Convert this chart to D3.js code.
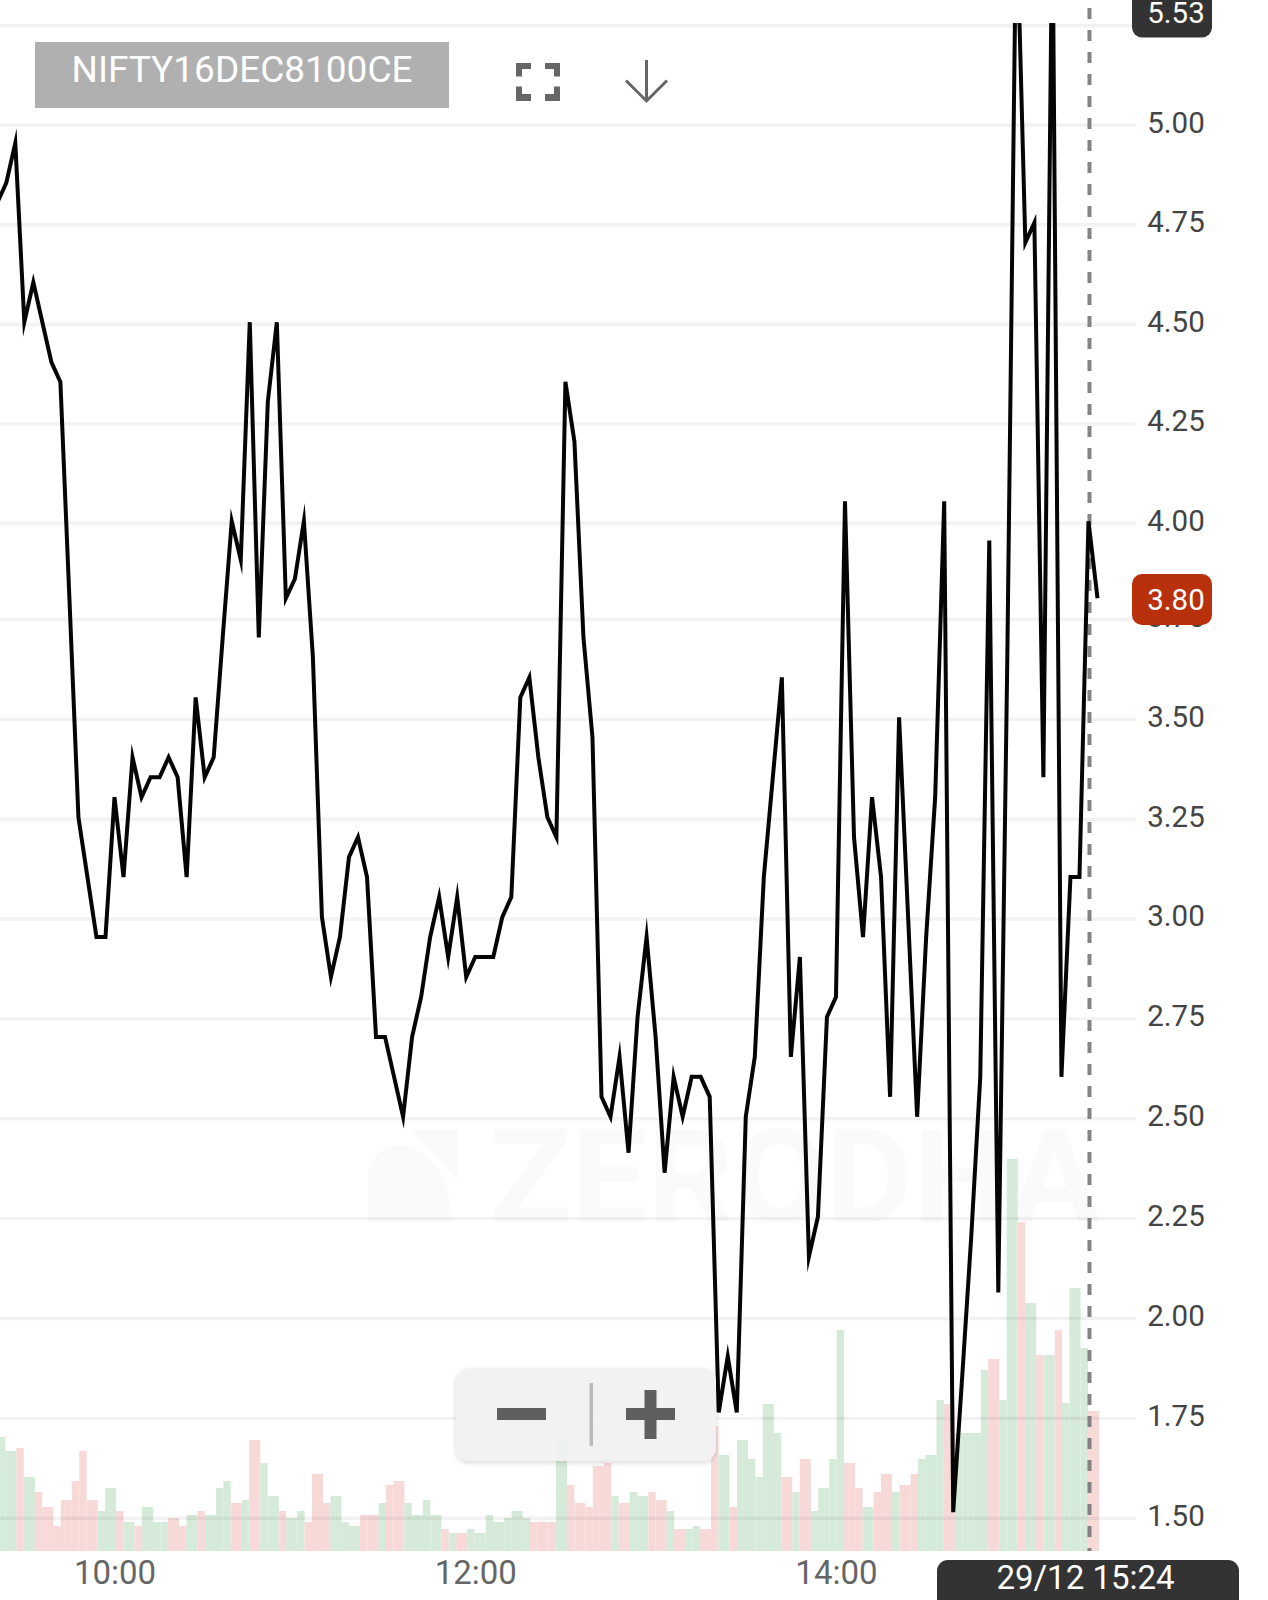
<!DOCTYPE html>
<html>
<head>
<meta charset="utf-8">
<title>NIFTY16DEC8100CE</title>
<script src="https://cdnjs.cloudflare.com/ajax/libs/d3/7.8.5/d3.min.js"></script>
<style>
  html, body { margin: 0; padding: 0; background: #fff; }
  svg { display: block; }
  text { font-family: Roboto, "Noto Sans", sans-serif; }
</style>
</head>
<body>
<div id="chart"></div>
<script>
// one candle every 3 minutes
var closes = [
  4.80,4.85,4.95,4.50,4.60,4.50,4.40,4.35,3.80,3.25,
  3.10,2.95,2.95,3.30,3.10,3.40,3.30,3.35,3.35,3.40,
  3.35,3.10,3.55,3.35,3.40,3.70,4.00,3.90,4.50,3.70,
  4.30,4.50,3.80,3.85,4.00,3.65,3.00,2.85,2.95,3.15,
  3.20,3.10,2.70,2.70,2.60,2.50,2.70,2.80,2.95,3.05,
  2.90,3.05,2.85,2.90,2.90,2.90,3.00,3.05,3.55,3.60,
  3.40,3.25,3.20,4.35,4.20,3.70,3.45,2.55,2.50,2.65,
  2.41,2.75,2.95,2.70,2.36,2.60,2.50,2.60,2.60,2.55,
  1.76,1.90,1.76,2.50,2.65,3.10,3.35,3.60,2.65,2.90,
  2.15,2.25,2.75,2.80,4.05,3.20,2.95,3.30,3.10,2.55,
  3.50,3.00,2.50,2.95,3.30,4.05,1.51,1.85,2.20,2.60,
  3.95,2.06,3.65,5.55,4.70,4.75,3.35,5.55,2.60,3.10,
  3.10,4.00,3.80
];

var volumes = [
  100,114,100,103,74,59,44,25,51,70,
  100,51,40,63,40,29,25,44,29,29,
  33,25,36,40,36,63,70,48,51,111,
  88,55,40,33,40,29,77,48,55,29,
  25,36,36,48,66,70,48,36,51,36,
  22,18,18,22,18,36,29,33,40,33,
  29,29,29,114,66,48,44,85,88,55,
  48,59,55,59,51,40,22,22,25,22,
  125,96,44,111,92,74,147,118,74,59,
  92,40,63,92,221,88,63,44,59,77,
  59,66,77,92,96,151,147,118,118,118,
  181,192,151,392,329,248,196,196,221,148,
  263,203,140
];

// 1 = up candle (green), 0 = down candle (red)
var volumeUp = [
  1,1,1,0,1,0,0,0,0,0,
  0,0,1,1,0,1,0,1,1,1,
  0,0,1,0,1,1,1,0,1,0,
  1,1,0,1,1,0,0,0,1,1,
  1,0,0,1,0,0,1,1,1,1,
  0,1,0,1,1,1,1,1,1,1,
  0,0,0,1,0,0,0,0,0,1,
  0,1,1,0,0,1,0,1,1,0,
  0,1,0,1,1,1,1,1,0,1,
  0,1,1,1,1,0,0,1,0,0,
  1,0,0,1,1,1,0,1,1,1,
  1,0,1,1,0,1,0,1,0,1,
  1,1,0
];

var gridTicks = [1.5,1.75,2,2.25,2.5,2.75,3,3.25,3.5,3.75,4,4.25,4.5,4.75,5,5.25];
var priceTicks = [1.5,1.75,2,2.25,2.5,2.75,3,3.25,3.5,3.75,4,4.25,4.5,4.75,5];
var timeTicks = [600,720,840]; // minutes since midnight
var lastMinute = 927;
var stepMinutes = 3;
var chartTitle = 'NIFTY16DEC8100CE';
var highLabel = '5.53';
var lastLabel = '3.80';
var crosshairLabel = '29/12 15:24';
var crosshairMinute = 924;

var width = 1268, height = 1600;

var minuteOf = function(i){
  return lastMinute - stepMinutes*(closes.length-1-i);
};

var x = d3.scaleLinear().domain([600,927]).range([114.5,1097.5]);
// the screenshot has a small step between 3.75 and 4.00, so three segments
var y = d3.scaleLinear().domain([1.5,3.75,4,5]).range([1517.7,619,522.7,124.7]);
var yVol = d3.scaleLinear().domain([0,392]).range([1551,1159]);

// the bars in the screenshot sit on a coarse pixel grid, so widths go 11,7,11,7...
var snap = function(px){
  var unit = 3.695;
  return Math.round((px-4.59)/unit)*unit + 5.33;
};

var clock = function(m){
  return d3.format('02d')(Math.floor(m/60)) + ':' + d3.format('02d')(m%60);
};

var svg = d3.select('#chart').append('svg')
            .attr('width',width)
            .attr('height',height);

svg.append('defs').append('clipPath').attr('id','plot')
   .append('rect').attr('x',0).attr('y',23).attr('width',1136).attr('height',1528);

var shadow = svg.select('defs').append('filter').attr('id','soft')
   .attr('x','-10%').attr('y','-10%').attr('width','120%').attr('height','125%');
shadow.append('feDropShadow').attr('dx',0).attr('dy',2).attr('stdDeviation',2.5)
   .attr('flood-color','#000').attr('flood-opacity',0.16);

// watermark
var mark = svg.append('g').attr('fill','#fafafa');
mark.append('path').attr('d','M368,1223 L368,1175 C372,1130 450,1130 452,1223 Z');
mark.append('path').attr('d','M411,1130 L458,1130 L458,1180 Z');
mark.append('text')
    .attr('x',490).attr('y',1222)
    .attr('font-size',130)
    .attr('font-weight',700)
    .attr('textLength',610)
    .attr('lengthAdjust','spacingAndGlyphs')
    .text('ZERODHA');

// volume bars
svg.append('g').attr('clip-path','url(#plot)')
  .selectAll('rect').data(volumes).enter().append('rect')
  .attr('x',function(d,i){ return snap(x(minuteOf(i)-stepMinutes)); })
  .attr('width',function(d,i){ return snap(x(minuteOf(i))) - snap(x(minuteOf(i)-stepMinutes)); })
  .attr('y',function(d){ return yVol(d); })
  .attr('height',function(d){ return yVol(0)-yVol(d); })
  .attr('fill',function(d,i){ return volumeUp[i] ? '#d6ead9' : '#f7d9d8'; });

// gridlines
var grid = svg.append('g').attr('transform','translate(1136,0)')
  .call(d3.axisLeft(y).tickValues(gridTicks).tickSize(1136).tickFormat(''));
grid.select('.domain').remove();
grid.selectAll('line').attr('stroke','#000').attr('stroke-opacity',0.05).attr('stroke-width',3.4);

// price labels
var yAxis = svg.append('g').attr('transform','translate(1176,0)')
  .call(d3.axisRight(y).tickValues(priceTicks).tickSize(0).tickPadding(0).tickFormat(d3.format('.2f')));
yAxis.select('.domain').remove();
yAxis.selectAll('text')
  .attr('text-anchor','middle')
  .attr('dy',null)
  .attr('y',7.3)
  .attr('font-size',29.5)
  .attr('font-family','Roboto')
  .attr('fill','#444');

// time labels
var xAxis = svg.append('g').attr('transform','translate(0,1584)')
  .call(d3.axisBottom(x).tickValues(timeTicks).tickSize(0).tickPadding(0).tickFormat(clock));
xAxis.select('.domain').remove();
xAxis.selectAll('text')
  .attr('dy',null)
  .attr('y',0)
  .attr('font-size',33)
  .attr('font-family','Roboto')
  .attr('fill','#666');

// crosshair
svg.append('line')
  .attr('x1',x(crosshairMinute)+1).attr('x2',x(crosshairMinute)+1)
  .attr('y1',8).attr('y2',1551)
  .attr('stroke','#777')
  .attr('stroke-opacity',0.9)
  .attr('stroke-width',4)
  .attr('stroke-dasharray','11,11');

// price line
var line = d3.line()
  .x(function(d,i){ return x(minuteOf(i)); })
  .y(function(d){ return y(d); });

svg.append('g').attr('clip-path','url(#plot)')
  .append('path').datum(closes)
  .attr('transform','translate(0,-1.5)')
  .attr('d',line)
  .attr('fill','none')
  .attr('stroke','#050505')
  .attr('stroke-width',4)
  .attr('stroke-linejoin','miter')
  .attr('stroke-miterlimit',10);

// price pills on the axis
var pill = function(top,h,colour,label,baseline){
  svg.append('rect').attr('x',1132).attr('y',top).attr('width',80).attr('height',h)
     .attr('rx',10).attr('fill',colour);
  svg.append('text').attr('x',1176).attr('y',baseline)
     .attr('text-anchor','middle').attr('font-size',29.5).attr('fill','#fff').text(label);
};
pill(-20,57.5,'#333',highLabel,22.5);
pill(574,51,'#b9300c',lastLabel,610);

// crosshair time pill
svg.append('rect').attr('x',937).attr('y',1560).attr('width',302).attr('height',60)
   .attr('rx',11).attr('fill','#333');
svg.append('text').attr('x',1085.5).attr('y',1589)
   .attr('text-anchor','middle').attr('font-size',33).attr('fill','#fff').text(crosshairLabel);

// instrument label
svg.append('rect').attr('x',35).attr('y',42).attr('width',414).attr('height',66).attr('fill','#b0b0b0');
svg.append('text').attr('x',242).attr('y',82)
   .attr('text-anchor','middle').attr('font-size',36.5)
   .attr('textLength',341).attr('lengthAdjust','spacingAndGlyphs')
   .attr('fill','#fff').text(chartTitle);

// fullscreen icon
svg.append('path')
   .attr('d','M516,63 h15 v6 h-9 v7.5 h-6 Z M560,63 h-15 v6 h9 v7.5 h6 Z M516,101 h15 v-7 h-9 v-7.5 h-6 Z M560,101 h-15 v-7 h9 v-7.5 h6 Z')
   .attr('fill','#666');

// download arrow
svg.append('path')
   .attr('d','M646.5,60 V101 M626,80.5 L646.5,101 L667,80.5')
   .attr('fill','none').attr('stroke','#666').attr('stroke-width',3);

// zoom widget
var zoomBox = svg.append('g');
zoomBox.append('rect').attr('x',456).attr('y',1368).attr('width',260).attr('height',93)
   .attr('rx',13).attr('fill','#f2f2f2').attr('fill-opacity',0.93).attr('filter','url(#soft)');
zoomBox.append('rect').attr('x',497).attr('y',1408).attr('width',49).attr('height',12).attr('fill','#5f5f5f');
zoomBox.append('rect').attr('x',589.5).attr('y',1383).attr('width',3.5).attr('height',63).attr('fill','#bbb');
zoomBox.append('rect').attr('x',626).attr('y',1408).attr('width',49).attr('height',12).attr('fill','#5f5f5f');
zoomBox.append('rect').attr('x',644.5).attr('y',1390).attr('width',12).attr('height',49).attr('fill','#5f5f5f');
</script>
</body>
</html>
